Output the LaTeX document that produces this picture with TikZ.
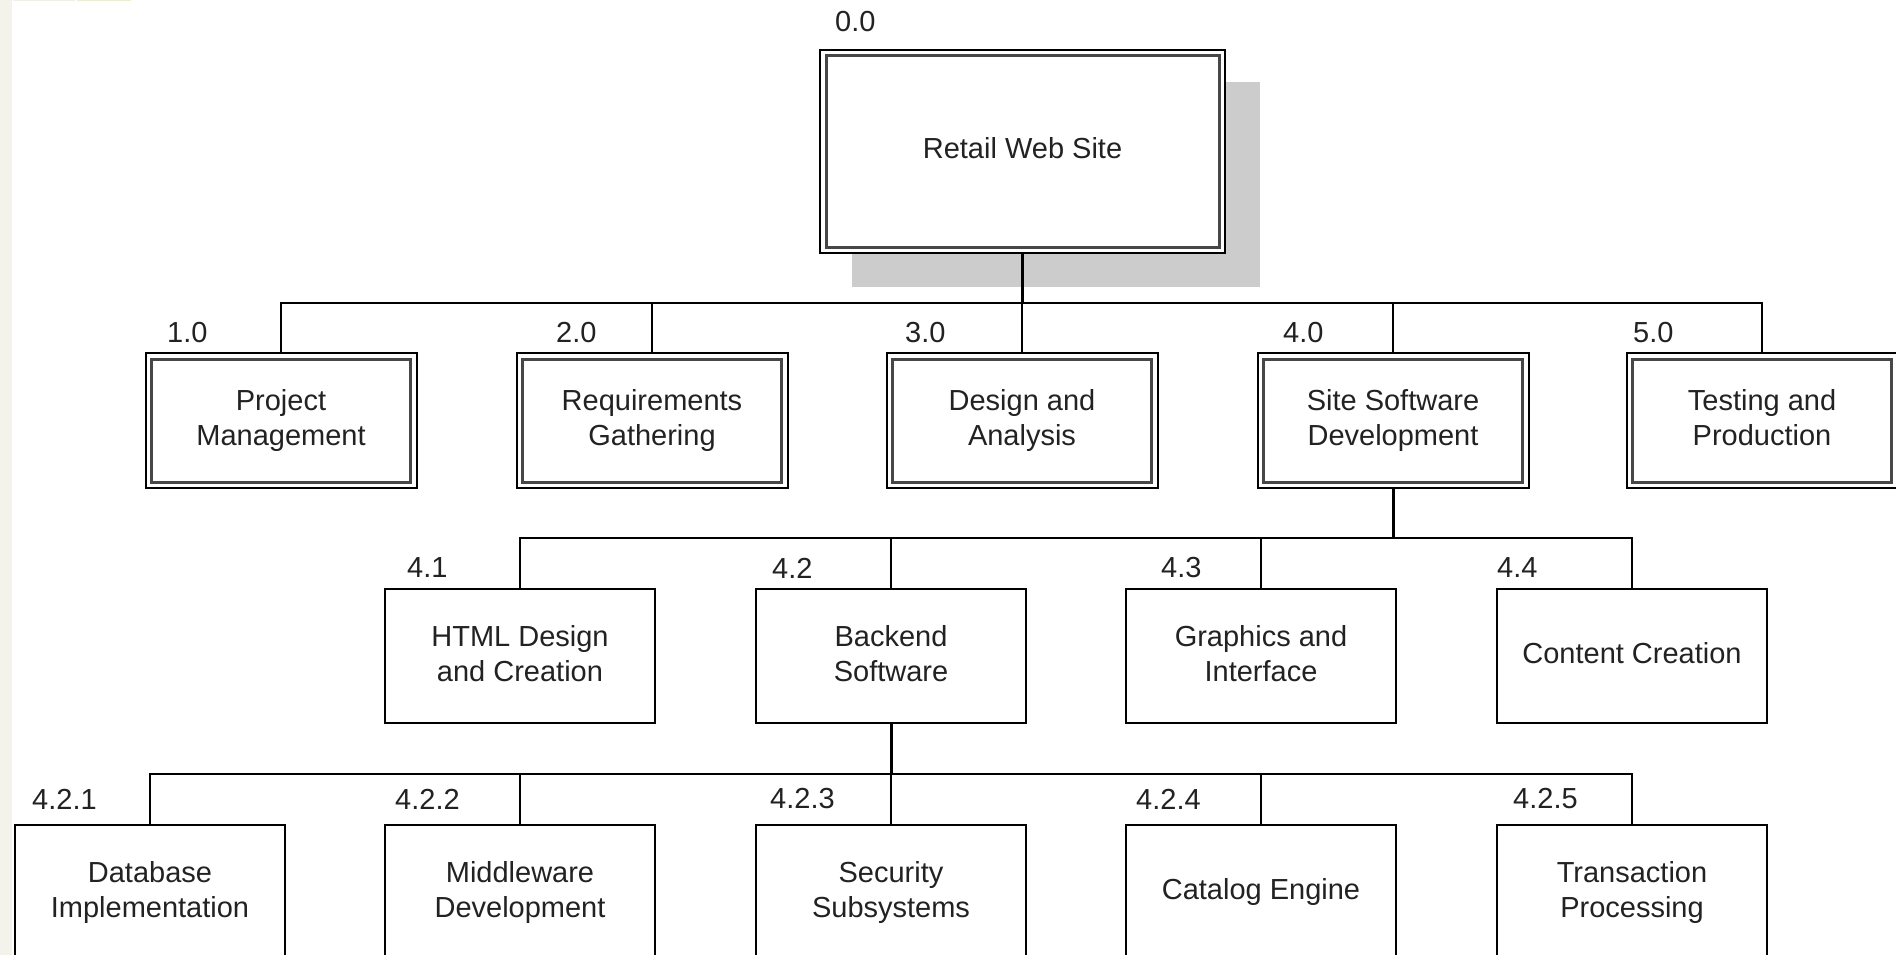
\documentclass[tikz,border=0pt]{standalone}
\usepackage{fontspec}
\setmainfont{Liberation Sans}
\definecolor{stripcol}{HTML}{F3F3EC}
\definecolor{barA}{HTML}{EFEFE8}
\definecolor{barB}{HTML}{EDEDD0}
\definecolor{shadowgray}{HTML}{CCCCCC}
\definecolor{txt}{HTML}{222222}
\tikzset{
  wbsbox/.style={draw=black, line width=2pt, fill=white, align=center, text=txt,
    inner sep=0pt, minimum width=270pt, minimum height=134pt,
    execute at begin node=\vphantom{Ag}, execute at end node=\vphantom{Ag}},
  dblbox/.style={wbsbox, minimum width=271pt, minimum height=135pt},
  innerline/.style={draw=black!72, line width=3pt},
  lbl/.style={anchor=west, inner sep=0pt, text=txt},
  conn/.style={draw=black, line width=2pt},
  trunk/.style={draw=black, line width=3pt},
}
\begin{document}
\begin{tikzpicture}[x=1pt, y=-1pt, font=\fontsize{29}{35}\selectfont, line join=miter]
\useasboundingbox (0,0) rectangle (1896,955);
\fill[white] (0,0) rectangle (1896,955);
\fill[stripcol] (0,0) rectangle (12,955);
\fill[barA] (13,0) rectangle (75,1.2);
\fill[barB] (77,0) rectangle (131,1.2);

% root
\fill[shadowgray] (852,82) rectangle (1260,287);
\node[dblbox, minimum width=405pt, minimum height=203pt] (root) at (1022.5,151.5) {Retail Web Site};
\node[lbl] (l00) at (835,22) {0.0};

% level 1
\node[dblbox] (n1) at (281,420.5) {Project\\Management};
\node[dblbox] (n2) at (652,420.5) {Requirements\\Gathering};
\node[dblbox] (n3) at (1022,420.5) {Design and\\Analysis};
\node[dblbox] (n4) at (1393,420.5) {Site Software\\Development};
\node[dblbox] (n5) at (1762,420.5) {Testing and\\Production};
\node[lbl] (l10) at (167,333) {1.0};
\node[lbl] (l20) at (556,333) {2.0};
\node[lbl] (l30) at (905,333) {3.0};
\node[lbl] (l40) at (1283,333) {4.0};
\node[lbl] (l50) at (1633,333) {5.0};

\foreach \n in {root,n1,n2,n3,n4,n5}
  \draw[innerline] ([xshift=7pt,yshift=-7pt]\n.north west) rectangle ([xshift=-7pt,yshift=7pt]\n.south east);

% level 2
\node[wbsbox] (m1) at (520,656) {HTML Design\\and Creation};
\node[wbsbox] (m2) at (891,656) {Backend\\Software};
\node[wbsbox] (m3) at (1261,656) {Graphics and\\Interface};
\node[wbsbox] (m4) at (1632,656) {Content Creation};
\node[lbl] (l41) at (407,568) {4.1};
\node[lbl] (l42) at (772,568) {4.2};
\node[lbl] (l43) at (1161,568) {4.3};
\node[lbl] (l44) at (1497,568) {4.4};

% level 3
\node[wbsbox] (k1) at (150,892) {Database\\Implementation};
\node[wbsbox] (k2) at (520,892) {Middleware\\Development};
\node[wbsbox] (k3) at (891,892) {Security\\Subsystems};
\node[wbsbox] (k4) at (1261,892) {Catalog Engine};
\node[wbsbox] (k5) at (1632,892) {Transaction\\Processing};
\node[lbl] (l421) at (32,799) {4.2.1};
\node[lbl] (l422) at (395,799) {4.2.2};
\node[lbl] (l423) at (770,799) {4.2.3};
\node[lbl] (l424) at (1136,799) {4.2.4};
\node[lbl] (l425) at (1513,799) {4.2.5};

% connectors
\coordinate (j0) at (1022.5,303);
\coordinate (j4) at (1393,538);
\coordinate (j42) at (891,774);
\draw[trunk] (root.south) -- (j0);
\foreach \c in {n1,n2,n3,n4,n5} \draw[conn] (j0) -| (\c.north);
\draw[trunk] (n4.south) -- (j4);
\foreach \c in {m1,m2,m3,m4} \draw[conn] (j4) -| (\c.north);
\draw[trunk] (m2.south) -- (j42);
\foreach \c in {k1,k2,k3,k4,k5} \draw[conn] (j42) -| (\c.north);
\end{tikzpicture}
\end{document}
